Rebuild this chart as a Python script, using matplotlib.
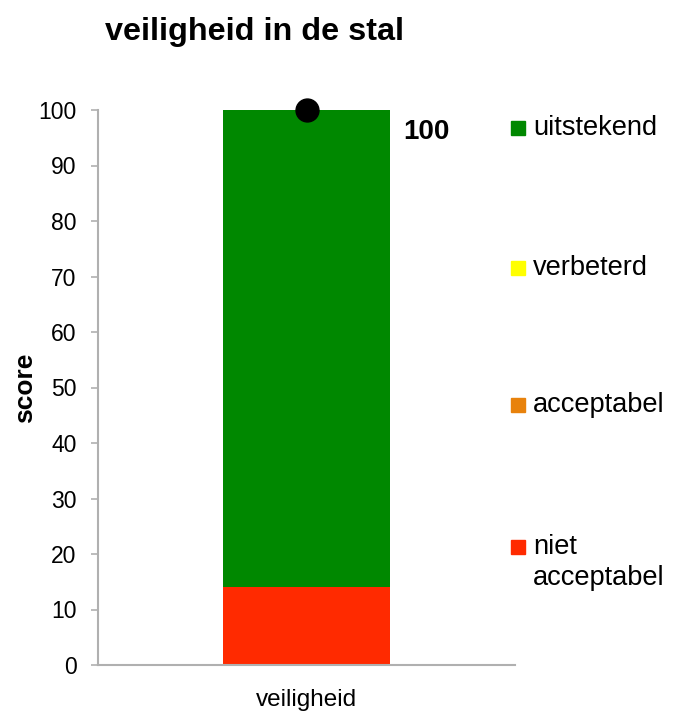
import numpy as np
import matplotlib.pyplot as plt
from matplotlib.patches import Rectangle

plt.rcParams['font.family'] = ['Liberation Sans', 'DejaVu Sans']

# data
categories = ["veiligheid"]
levels = ["niet\nacceptabel", "acceptabel", "verbeterd", "uitstekend"]
segments = [14, 0, 0, 86]
colors = ["#ff2a00", "#e8820c", "#ffff00", "#008800"]
score = 100
y_ticks = list(range(0, 101, 10))

fig = plt.figure(figsize=(6.75, 7.18), dpi=100)
ax = fig.add_axes([98 / 675, 53 / 718, 417 / 675, 555 / 718])

x = np.arange(len(categories))
bottom = 0
for val, col in zip(segments, colors):
    ax.bar(x, val, bottom=bottom, width=0.8, color=col, edgecolor="none")
    bottom += val

# score point
ax.plot(x, [score], "o", color="black", markersize=16.5, clip_on=False, zorder=5)
ax.annotate(str(score), (x[0], score), xytext=(70, -16), textcoords="offset points",
            ha="left", va="center", fontsize=20, fontweight="bold")

ax.set_xlim(-1, 1)
ax.set_ylim(0, 100)
ax.set_yticks(y_ticks)
ax.set_yticklabels([str(t) for t in y_ticks], fontsize=16.5)
ax.set_xticks(x)
ax.set_xticklabels(categories, fontsize=17.5)
ax.tick_params(axis="x", length=0, pad=17)
ax.tick_params(axis="y", length=5, width=1.2, color="#b0b0b0", pad=10.5)
for s in ["top", "right"]:
    ax.spines[s].set_visible(False)
for s in ["left", "bottom"]:
    ax.spines[s].set_color("#b0b0b0")
    ax.spines[s].set_linewidth(1.5)

fig.text(25 / 675, 1 - 388 / 718, "score", rotation=90, ha="center", va="center",
         fontsize=19, fontweight="bold")
fig.text(105 / 675, 1 - 40 / 718, "veiligheid in de stal", ha="left", va="baseline",
         fontsize=23.3, fontweight="bold")

# legend, top to bottom
leg_y = [128, 268, 405, 547]
for lab, col, yy in zip(levels[::-1], colors[::-1], leg_y):
    fig.patches.append(Rectangle((511 / 675, 1 - (yy + 7) / 718), 14 / 675, 14 / 718,
                                 transform=fig.transFigure, color=col))
    fig.text(533 / 675, 1 - (yy - 13) / 718, lab, ha="left", va="top", fontsize=19.6,
             linespacing=1.25)

fig.savefig("out.png", dpi=100)
